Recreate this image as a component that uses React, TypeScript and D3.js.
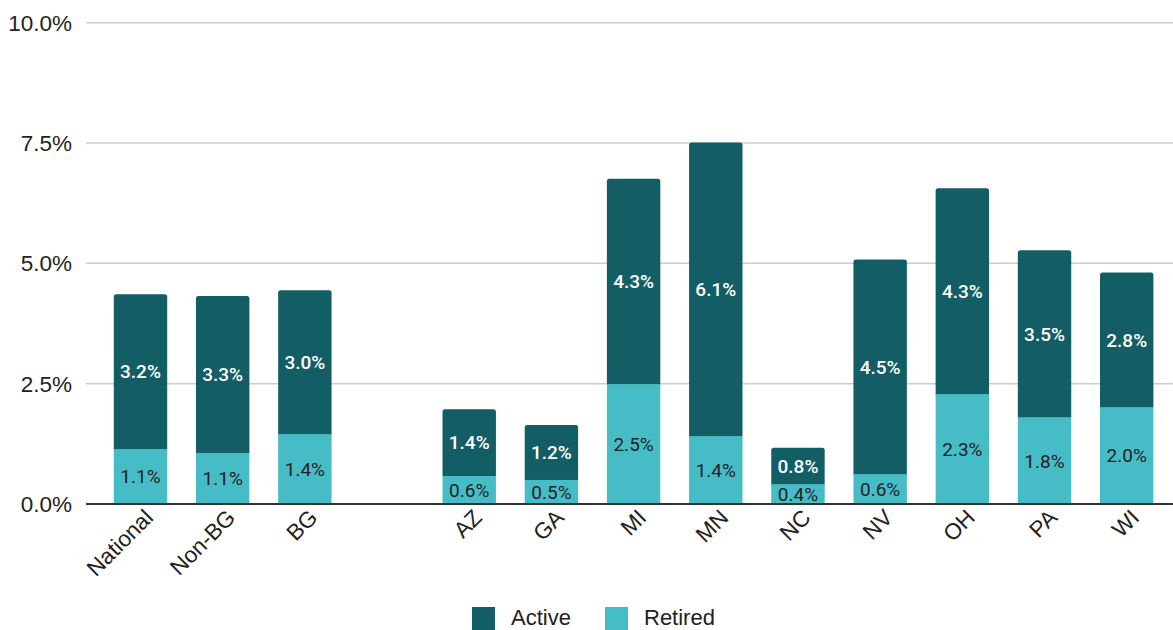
import React from "react";
import * as d3 from "d3";

const categories = ["National", "Non-BG", "BG", "", "AZ", "GA", "MI", "MN", "NC", "NV", "OH", "PA", "WI"];
const retired = [1.14, 1.06, 1.45, null, 0.58, 0.5, 2.49, 1.41, 0.41, 0.62, 2.28, 1.8, 2.01];
const active = [3.22, 3.26, 2.99, null, 1.39, 1.14, 4.27, 6.1, 0.76, 4.46, 4.28, 3.47, 2.8];
const retiredLabels = ["1.1%", "1.1%", "1.4%", "", "0.6%", "0.5%", "2.5%", "1.4%", "0.4%", "0.6%", "2.3%", "1.8%", "2.0%"];
const activeLabels = ["3.2%", "3.3%", "3.0%", "", "1.4%", "1.2%", "4.3%", "6.1%", "0.8%", "4.5%", "4.3%", "3.5%", "2.8%"];
const yTicks = [0, 2.5, 5, 7.5, 10];
const seriesNames = ["Active", "Retired"];

const W = 1173;
const H = 630;
const ACTIVE_COLOR = "#135e65";
const RETIRED_COLOR = "#46bdc6";

function topRoundedRect(x: number, y: number, w: number, h: number, r: number) {
  const rr = Math.min(r, h / 2, w / 2);
  return `M${x},${y + h}V${y + rr}Q${x},${y} ${x + rr},${y}H${x + w - rr}Q${x + w},${y} ${x + w},${y + rr}V${y + h}Z`;
}

export default function App() {
  const keys = categories.map((c, i) => c || `gap${i}`);
  const x = d3.scaleBand<string>().domain(keys).range([99.4, 1167.8]).paddingInner(0.35).paddingOuter(0.175);
  const y = d3.scaleLinear().domain([0, 10]).range([504, 22.7]);
  const bw = x.bandwidth();
  const font = "Arial, 'Liberation Sans', sans-serif";
  const lblFont = "Roboto, 'Noto Sans', sans-serif";

  return (
    <svg width={W} height={H} style={{ position: "absolute", left: 0, top: 0, background: "#fff" }}>
      {yTicks.map((t) => (
        <g key={t}>
          {t !== 0 && <line x1={86} x2={W} y1={y(t)} y2={y(t)} stroke="#cccccc" strokeWidth={1.5} />}
          <text x={72} y={y(t)} dy="0.36em" textAnchor="end" fontFamily={font} fontSize={22.5} fill="#222">
            {t.toFixed(1)}%
          </text>
        </g>
      ))}
      {keys.map((k, i) => {
        const r = retired[i];
        const a = active[i];
        if (r == null || a == null) return null;
        const x0 = x(k)!;
        const yR = y(r);
        const yT = y(r + a);
        return (
          <g key={k}>
            <path d={topRoundedRect(x0, yT, bw, yR - yT + 0.5, 2.5)} fill={ACTIVE_COLOR} />
            <rect x={x0} y={yR} width={bw} height={y(0) - yR} fill={RETIRED_COLOR} />
            <text x={x0 + bw / 2} y={(yR + yT) / 2} dy="0.36em" textAnchor="middle" fontFamily={lblFont} fontSize={19} fontWeight={500} fill="#ffffff">
              {activeLabels[i]}
            </text>
            <text x={x0 + bw / 2} y={(yR + y(0)) / 2} dy="0.36em" textAnchor="middle" fontFamily={lblFont} fontSize={19} fill="#222">
              {retiredLabels[i]}
            </text>
          </g>
        );
      })}
      <line x1={86} x2={W} y1={y(0)} y2={y(0)} stroke="#333" strokeWidth={2} />
      {keys.map((k, i) =>
        categories[i] ? (
          <text
            key={"xl" + k}
            transform={`translate(${x(k)! + bw / 2 + 14},${519}) rotate(-45)`}
            textAnchor="end"
            fontFamily={font}
            fontSize={22.5}
            fill="#222"
          >
            {categories[i]}
          </text>
        ) : null
      )}
      {seriesNames.map((s, i) => {
        const lx = i === 0 ? 472 : 605;
        return (
          <g key={s}>
            <rect x={lx} y={607} width={23} height={23} fill={i === 0 ? ACTIVE_COLOR : RETIRED_COLOR} />
            <text x={lx + 39} y={625} fontFamily={font} fontSize={22} fill="#222">
              {s}
            </text>
          </g>
        );
      })}
    </svg>
  );
}
